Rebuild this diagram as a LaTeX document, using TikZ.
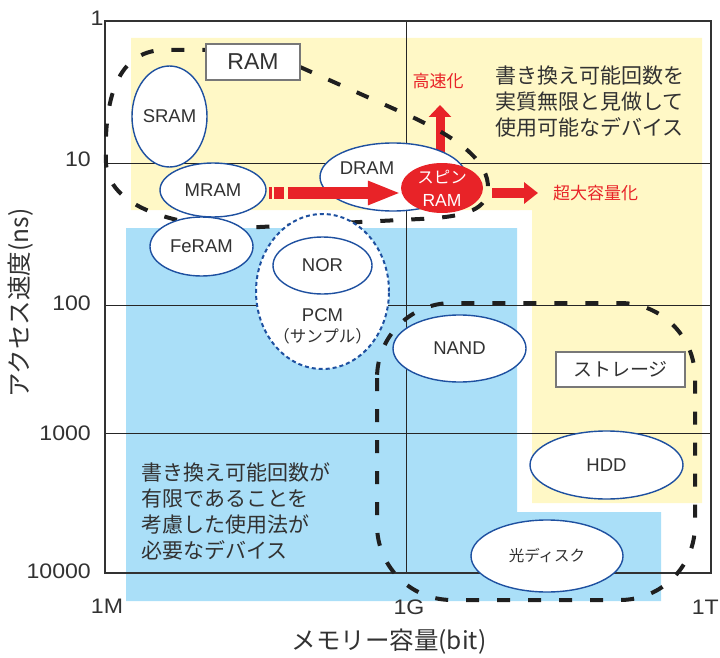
\documentclass[tikz,border=0pt]{standalone}
\usepackage{fontspec}
\setmainfont{Liberation Sans}
\newfontfamily\jp{Noto Sans CJK JP}
\newfontfamily\tickf[FakeStretch=1.1]{Liberation Sans}
\usetikzlibrary{shapes.geometric,arrows.meta}
\definecolor{ylw}{RGB}{255,248,198}
\definecolor{sky}{RGB}{170,223,248}
\definecolor{eblue}{RGB}{30,80,160}
\definecolor{redc}{RGB}{232,35,40}
\definecolor{txt}{RGB}{50,50,50}
\definecolor{boxgray}{RGB}{120,120,120}
\pgfdeclarelayer{bg}
\pgfdeclarelayer{under}
\pgfsetlayers{bg,under,main}
\begin{document}
\begin{tikzpicture}[x=1pt,y=-1pt,
  ell/.style={ellipse,draw=eblue,line width=1.4pt,fill=white,inner sep=0pt},
  lbl/.style={text=txt,font=\fontsize{18.5}{21}\selectfont,inner sep=0pt},
  jplbl/.style={text=txt,font=\jp\fontsize{15.5}{18}\selectfont,inner sep=0pt},
  ticklbl/.style={text=txt,font=\tickf\fontsize{21}{24}\selectfont,inner sep=0pt},
  bigdash/.style={draw=black!88,line width=4pt,dash pattern=on 13pt off 18pt},
  tagbox/.style={rectangle,draw=boxgray,fill=white,line width=1.6pt,text=txt,inner sep=0pt},
  fat/.style={draw=redc,line width=#1},
  redlbl/.style={text=redc,font=\jp\fontsize{17}{17}\selectfont,inner sep=0pt},
  note/.style={text=txt,font=\jp\fontsize{21}{25.7}\selectfont,align=left,inner sep=0pt,anchor=north west},
  axtitle/.style={text=txt,font=\jp\fontsize{24.5}{26}\selectfont,inner sep=0pt}]
\useasboundingbox (0,0) rectangle (720,658);

\begin{pgfonlayer}{bg}
  \fill[ylw] (131,38) -- (702,38) -- (702,503) -- (532,503) -- (532,210) -- (131,210) -- cycle;
  \fill[sky] (126,228) -- (517,228) -- (517,512) -- (661,512) -- (661,601) -- (126,601) -- cycle;
  \draw[black!85,line width=0.9pt] (105,163) -- (711,163) (105,305) -- (711,305) (105,433) -- (711,433) (406,21) -- (406,573);
  \draw[txt,line width=1.6pt] (105,21) rectangle (711,573);
\end{pgfonlayer}

% dashed group outlines
\draw[bigdash] (300,67) -- (410,116) .. controls (455,137) and (490,160) .. (488,190)
  .. controls (486,212) and (460,217) .. (420,219) -- (260,227)
  .. controls (170,229) and (108,205) .. (106,163)
  .. controls (104,110) and (112,50) .. (165,50) -- (206,50);
\draw[bigdash,rounded corners=75pt] (377,303) rectangle (695,600);

% memory ellipses
\node[ell,minimum width=75pt,minimum height=101pt,label={[lbl]center:SRAM}] (sram) at (169.5,116.5) {};
\node[ell,minimum width=106pt,minimum height=54pt,label={[lbl]center:MRAM}] (mram) at (213,190) {};
\node[ell,minimum width=103pt,minimum height=59pt,label={[lbl]center:FeRAM}] (feram) at (201.5,246.5) {};
\node[ellipse,draw=eblue,line width=2pt,dash pattern=on 4pt off 3pt,fill=white,inner sep=0pt,minimum width=133pt,minimum height=155pt] (pcm) at (322.5,291.5) {};
\node[ell,minimum width=99pt,minimum height=57pt,label={[lbl]center:NOR}] (nor) at (322.5,265.5) {};
\node[lbl,align=center,font=\fontsize{18.5}{21}\selectfont] (pcmtext) at (322.5,326) {PCM\\{\jp\fontsize{16.5}{18}\selectfont （サンプル）}};
\node[ell,minimum width=146pt,minimum height=68pt] (dram) at (393,177) {};
\node[lbl] (dramtext) at (367,168) {DRAM};
\node[ell,minimum width=133pt,minimum height=67pt,label={[lbl]center:NAND}] (nand) at (459.5,348.5) {};
\node[ell,minimum width=153pt,minimum height=68pt,label={[lbl]center:HDD}] (hdd) at (606.5,465) {};
\node[ell,minimum width=152pt,minimum height=72pt,label={[jplbl]center:光ディスク}] (odisk) at (547,556) {};
\node[ellipse,fill=redc,inner sep=0pt,minimum width=82pt,minimum height=50pt,
  label={[align=center,text=white,font=\fontsize{17.5}{23}\selectfont]center:{\jp\fontsize{16.5}{23}\selectfont スピン}\\RAM}] (spin) at (442,188) {};

% arrows
\draw[fat=11.5pt,dash pattern=on 3pt off 2pt on 10pt off 4pt on 400pt off 0pt,
  -{Triangle[width=22pt,length=33pt]},shorten <=2pt] ([yshift=-3pt]mram.east) -- ([yshift=-5pt]spin.west);
\coordinate (bigtip) at (538,193);
\draw[fat=10pt,-{Triangle[width=21pt,length=14pt]},shorten <=9pt] ([yshift=-5pt]spin.east) -- (bigtip);
\coordinate (fasttip) at (440,105);
\begin{pgfonlayer}{under}
  \draw[fat=9pt,-{Triangle[width=22pt,length=12pt]}] (spin.north -| fasttip) -- (fasttip);
\end{pgfonlayer}
\node[redlbl] (fastlbl) at (438,81) {高速化};
\node[redlbl,anchor=west] (biglbl) at (553,193) {超大容量化};

% group tags
\node[tagbox,minimum width=94pt,minimum height=36pt,font=\fontsize{23}{26}\selectfont] (ramtag) at (253,62) {RAM};
\node[tagbox,minimum width=129pt,minimum height=35pt,font=\jp\fontsize{19}{22}\selectfont] (stortag) at (620.5,369.5) {ストレージ};

% notes
\node[note] (noteA) at (495,66) {書き換え可能回数を\\実質無限と見做して\\使用可能なデバイス};
\node[note] (noteB) at (141,463) {書き換え可能回数が\\有限であることを\\考慮した使用法が\\必要なデバイス};

% axes
\node[ticklbl] (y1) at (97,18) {1};
\node[ticklbl,anchor=east] (y10) at (91,159) {10};
\node[ticklbl,anchor=east] (y100) at (91,303) {100};
\node[ticklbl,anchor=east] (y1000) at (91,433) {1000};
\node[ticklbl,anchor=east] (y10000) at (91,571) {10000};
\node[ticklbl] (x1M) at (107,606) {1M};
\node[ticklbl] (x1G) at (409,607) {1G};
\node[ticklbl,anchor=east] (x1T) at (719,607) {1T};
\node[axtitle,rotate=90] (ytitle) at (21,303) {アクセス速度(ns)};
\node[axtitle] (xtitle) at (389,642) {メモリー容量(bit)};
\end{tikzpicture}
\end{document}
